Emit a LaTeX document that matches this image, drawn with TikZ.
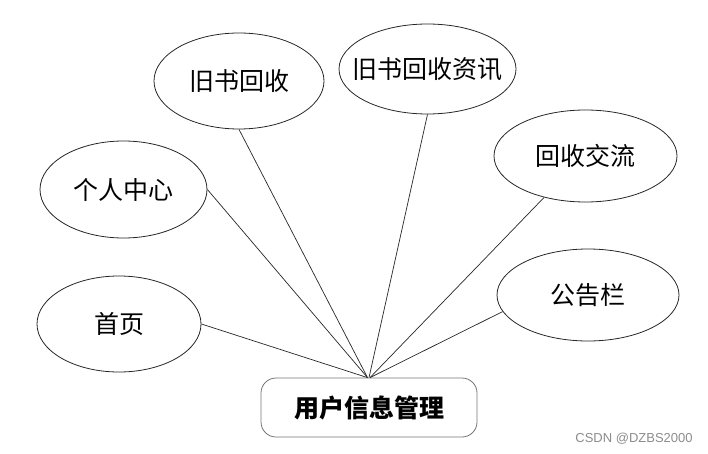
\documentclass[tikz,border=0pt]{standalone}
\usepackage{fontspec}
\newfontfamily\cjk{Noto Sans CJK SC}
\setsansfont{Liberation Sans}
\usetikzlibrary{shapes.geometric}
\usetikzlibrary{positioning}

\begin{document}
\begin{tikzpicture}[x=1pt,y=-1pt,
    func/.style={ellipse,draw=black!85,line width=0.8pt,inner xsep=-25pt,inner ysep=-10pt,
      font=\cjk\fontsize{25}{25}\selectfont},
    mgr/.style={rectangle,rounded corners=15pt,draw=black!55,line width=0.8pt,
      minimum width=216pt,minimum height=59pt,inner sep=0pt,
      font=\cjk\bfseries\fontsize{25}{25}\selectfont},
    link/.style={draw=black!85,line width=0.7pt}]
   \useasboundingbox (0,0) rectangle (708,454);
   \node[mgr] (root) at (369,407.5) {用户信息管理};
   \node[func, minimum width=164pt, minimum height=96pt] (m_0) at (119,324) {首页};
   \node[func, minimum width=167pt, minimum height=97pt] (m_1) at (123.5,189.5) {个人中心};
   \node[func, minimum width=170pt, minimum height=96pt] (m_2) at (239,81) {旧书回收};
   \node[func, minimum width=177pt, minimum height=90pt] (m_3) at (427.5,69) {旧书回收资讯};
   \node[func, minimum width=183pt, minimum height=92pt] (m_4) at (585.5,156) {回收交流};
   \node[func, minimum width=182pt, minimum height=92pt] (m_5) at (588,295) {公告栏};
   \node[text=black!45, font=\sffamily\fontsize{13}{13}\selectfont] (mark) at (634,439) {CSDN @DZBS2000};
    \path[link]
    (m_0.east) edge ([xshift=-1.5pt]root.north)
    (m_1.east) edge ([xshift=-1.5pt]root.north)
    (m_2.south) edge ([xshift=-1.5pt]root.north)
    (m_3.south) edge (root.north)
    (m_4.225) edge ([xshift=1pt]root.north)
    (m_5.191) edge ([xshift=1pt]root.north);
\end{tikzpicture}
\end{document}
